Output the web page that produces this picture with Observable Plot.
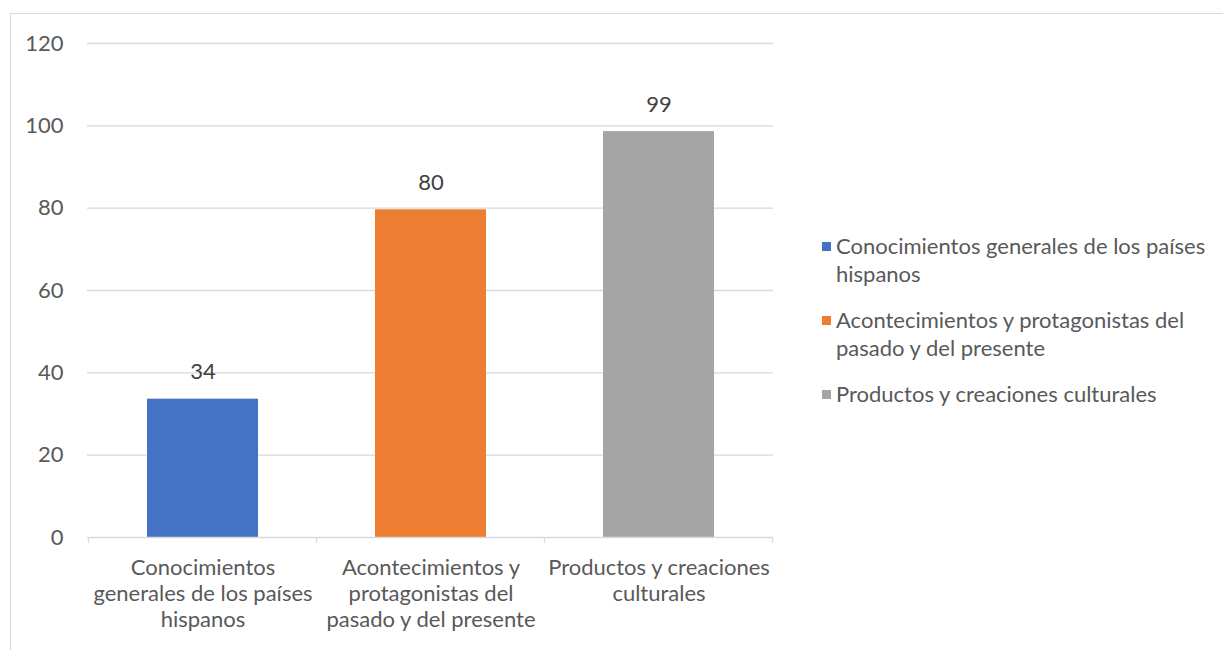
<!DOCTYPE html>
<html>
<head>
<meta charset="utf-8">
<script src="https://cdn.jsdelivr.net/npm/d3@7"></script>
<script src="https://cdn.jsdelivr.net/npm/@observablehq/plot@0.6"></script>
<style>
  html, body { margin: 0; padding: 0; background: #fff; }
  #wrap { position: relative; width: 1223px; height: 650px; overflow: hidden; font-family: Lato, "Open Sans", sans-serif; }
  #frame { position: absolute; left: 10px; top: 13px; width: 1300px; height: 700px; border: 1.5px solid #d9d9d9; box-sizing: border-box; }
  #chart { position: absolute; left: 0; top: 0; }
  #legend { position: absolute; left: 822px; top: 232px; width: 400px; color: #595959; font-size: 22px; line-height: 28px; }
  .item { position: relative; padding-left: 14px; margin-bottom: 18px; white-space: nowrap; }
  .sw { position: absolute; left: 0; top: 10px; width: 9px; height: 9px; }
</style>
</head>
<body>
<div id="wrap">
  <div id="frame"></div>
  <div id="chart"></div>
  <div id="legend"></div>
</div>
<script>
const categories = [
  "Conocimientos generales de los países hispanos",
  "Acontecimientos y protagonistas del pasado y del presente",
  "Productos y creaciones culturales"
];
const axisLabels = [
  "Conocimientos\ngenerales de los países\nhispanos",
  "Acontecimientos y\nprotagonistas del\npasado y del presente",
  "Productos y creaciones\nculturales"
];
const legendLabels = [
  ["Conocimientos generales de los países", "hispanos"],
  ["Acontecimientos y protagonistas del", "pasado y del presente"],
  ["Productos y creaciones culturales"]
];
const values = [33.6, 79.6, 98.6];
const yTicks = [0, 20, 40, 60, 80, 100, 120];
const colors = ["#4472C4", "#ED7D31", "#A5A5A5"];

const data = categories.map((c, i) => ({category: c, value: values[i], label: axisLabels[i]}));
const labelOf = new Map(data.map(d => [d.category, d.label]));

const plot = Plot.plot({
  width: 1223,
  height: 650,
  marginLeft: 87,
  marginRight: 450,
  marginTop: 43,
  marginBottom: 113,
  style: {fontFamily: "Lato, 'Open Sans', sans-serif", fontSize: "22px", color: "#595959", background: "transparent"},
  x: {domain: categories, paddingInner: 0.515, paddingOuter: 0.2575, label: null},
  y: {domain: [0, 120], label: null},
  color: {domain: categories, range: colors},
  marks: [
    Plot.ruleY(yTicks.filter(t => t > 0), {stroke: "#d9d9d9", strokeWidth: 1.3}),
    Plot.barY(data, {x: "category", y: "value", fill: "category"}),
    Plot.ruleY([0], {stroke: "#d9d9d9", strokeWidth: 1.3}),
    Plot.text(data, {x: "category", y: "value", text: d => String(Math.round(d.value)), dy: -27, fill: "#404040", fontSize: 22}),
    Plot.axisY({ticks: yTicks, tickSize: 0, tickPadding: 24, fontSize: 22, fill: "#595959", label: null}),
    Plot.axisX({tickSize: 0, tickPadding: 19, fontSize: 22, fill: "#595959", lineHeight: 1.18, tickFormat: d => labelOf.get(d), label: null})
  ]
});

// category boundary tick marks (positions from the x scale)
const xs = plot.scale("x");
const ys = plot.scale("y");
const step = xs.step;
const first = xs.apply(categories[0]) - (step - xs.bandwidth) / 2;
const bounds = d3.range(categories.length + 1).map(i => first + i * step);
const y0 = ys.apply(0);
d3.select(plot).append("g")
  .selectAll("line").data(bounds).join("line")
  .attr("x1", d => d).attr("x2", d => d)
  .attr("y1", y0).attr("y2", y0 + 6)
  .attr("stroke", "#d9d9d9").attr("stroke-width", 1.3);

document.getElementById("chart").appendChild(plot);

const legend = document.getElementById("legend");
categories.forEach((c, i) => {
  const item = document.createElement("div");
  item.className = "item";
  const sw = document.createElement("span");
  sw.className = "sw";
  sw.style.background = colors[i];
  item.appendChild(sw);
  legendLabels[i].forEach((line, j) => {
    if (j > 0) item.appendChild(document.createElement("br"));
    item.appendChild(document.createTextNode(line));
  });
  legend.appendChild(item);
});
</script>
</body>
</html>
